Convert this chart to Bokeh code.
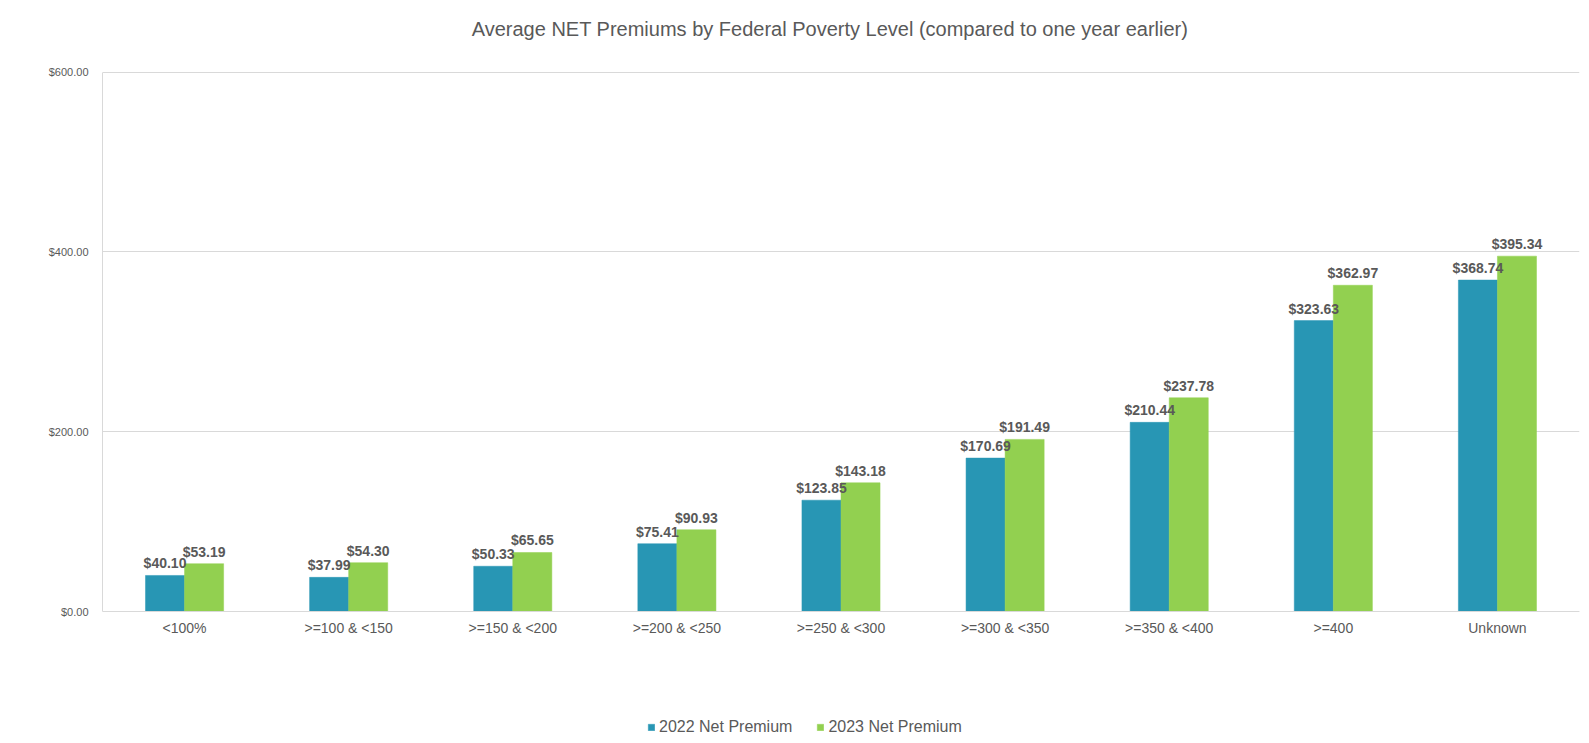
from bokeh.plotting import figure
from bokeh.models import (ColumnDataSource, FactorRange, FixedTicker, NumeralTickFormatter,
                          Legend, LegendItem, Label, Range1d)
from bokeh.transform import dodge
from bokeh.core.properties import value
from bokeh.embed import file_html
from bokeh.resources import INLINE

categories = ["<100%", ">=100 & <150", ">=150 & <200", ">=200 & <250", ">=250 & <300",
              ">=300 & <350", ">=350 & <400", ">=400", "Unknown"]
premium_2022 = [40.10, 37.99, 50.33, 75.41, 123.85, 170.69, 210.44, 323.63, 368.74]
premium_2023 = [53.19, 54.30, 65.65, 90.93, 143.18, 191.49, 237.78, 362.97, 395.34]
y_ticks = [0, 200, 400, 600]
title_text = "Average NET Premiums by Federal Poverty Level (compared to one year earlier)"
series_names = ["2022 Net Premium", "2023 Net Premium"]

BLUE = "#2896b4"
GREEN = "#92d050"
GREY_TEXT = "#595959"
GRID = "#d9d9d9"
FONT = "Liberation Sans"

W, H = 1589, 743
BASE_Y = 611          # pixel row of the $0 baseline
TOP_Y = 71.7          # pixel row of the $600 gridline
k = (BASE_Y - TOP_Y) / 600.0

src = ColumnDataSource(dict(
    cat=categories,
    v22=premium_2022,
    v23=premium_2023,
    l22=["${:,.2f}".format(v) for v in premium_2022],
    l23=["${:,.2f}".format(v) for v in premium_2023],
))

# the frame covers the whole canvas height, so title and legend can sit inside it
p = figure(width=W, height=H, output_backend="svg", toolbar_location=None,
           x_range=FactorRange(*categories, range_padding=0),
           y_range=Range1d(-(H - BASE_Y) / k, BASE_Y / k),
           min_border_left=102, min_border_right=10, min_border_top=0, min_border_bottom=0)
p.outline_line_color = None
p.background_fill_color = "white"
p.border_fill_color = "white"

bw = 0.238
r22 = p.vbar(x=dodge("cat", -bw / 2, range=p.x_range), top="v22", width=bw, source=src,
             fill_color=BLUE, line_color=BLUE, line_width=0.5)
r23 = p.vbar(x=dodge("cat", bw / 2, range=p.x_range), top="v23", width=bw, source=src,
             fill_color=GREEN, line_color=GREEN, line_width=0.5)

for col, lab, off in (("v22", "l22", -bw / 2), ("v23", "l23", bw / 2)):
    p.text(x=dodge("cat", off, range=p.x_range), y=col, text=lab, source=src,
           text_align="center", text_baseline="alphabetic", y_offset=-12,
           text_font=value(FONT), text_font_size="14px", text_font_style="bold",
           text_color=GREY_TEXT)

# axes
p.yaxis.ticker = FixedTicker(ticks=y_ticks)
p.yaxis.bounds = (0, 600)
p.yaxis.formatter = NumeralTickFormatter(format="$0,0.00")
p.yaxis.major_label_text_font = FONT
p.yaxis.major_label_text_font_size = "11px"
p.yaxis.major_label_text_color = GREY_TEXT
p.yaxis.axis_line_color = GRID
p.yaxis.major_tick_line_color = None
p.yaxis.minor_tick_line_color = None
p.yaxis.major_label_standoff = 8

p.xaxis.fixed_location = 0
p.xaxis.major_label_text_font = FONT
p.xaxis.major_label_text_font_size = "14px"
p.xaxis.major_label_text_color = GREY_TEXT
p.xaxis.axis_line_color = GRID
p.xaxis.major_tick_line_color = None
p.xaxis.minor_tick_line_color = None
p.xaxis.major_label_standoff = 2

p.xgrid.grid_line_color = None
p.ygrid.grid_line_color = GRID
p.ygrid.grid_line_width = 1

# title
p.add_layout(Label(x=727.5, y=H - 28, x_units="screen", y_units="screen", text=title_text,
                   text_align="center", text_baseline="alphabetic",
                   text_font=FONT, text_font_size="20px", text_color=GREY_TEXT))

legend = Legend(items=[LegendItem(label=series_names[0], renderers=[r22]),
                       LegendItem(label=series_names[1], renderers=[r23])],
                orientation="horizontal", location=(545, 7),
                glyph_width=8, glyph_height=8, label_height=16, label_standoff=4,
                spacing=24, padding=0, margin=0, border_line_color=None,
                background_fill_alpha=0,
                label_text_font=FONT, label_text_font_size="16px",
                label_text_color=GREY_TEXT)
p.add_layout(legend, "center")

open("out.html", "w").write(file_html(p, INLINE))
